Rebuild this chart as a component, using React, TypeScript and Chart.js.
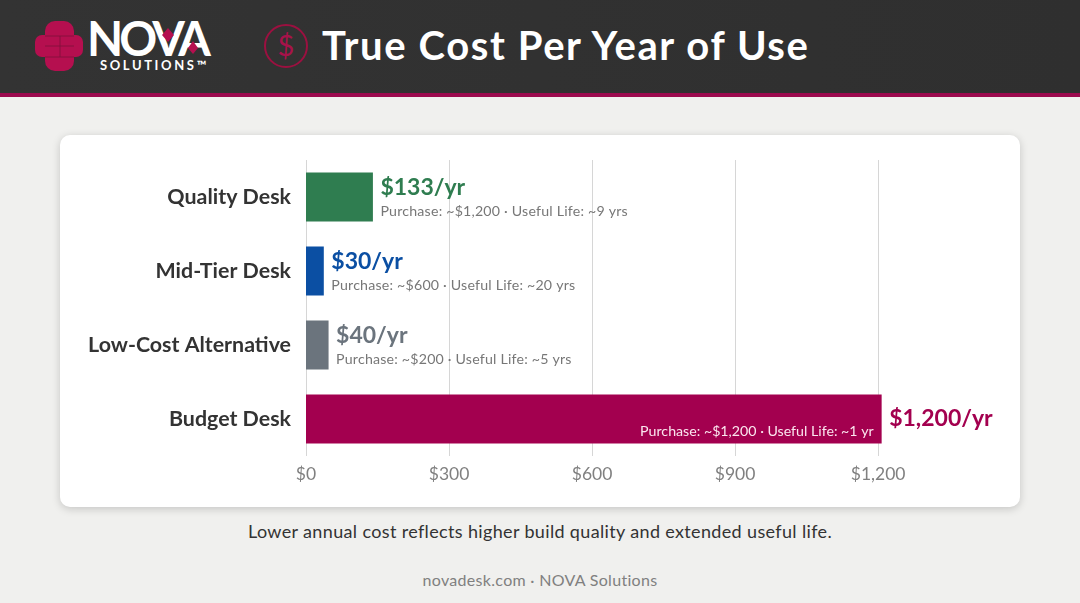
import React, { useEffect, useRef } from "react";
import { Chart, registerables } from "chart.js";

Chart.register(...registerables);

const categories = ["Quality Desk", "Mid-Tier Desk", "Low-Cost Alternative", "Budget Desk"];
const annualCost = [133, 30, 40, 1200];
const barColors = ["#2f7d50", "#0b4fa3", "#6b747d", "#a3004f"];
const valueLabels = ["$133/yr", "$30/yr", "$40/yr", "$1,200/yr"];
const detailLabels = [
  "Purchase: ~$1,200 · Useful Life: ~9 yrs",
  "Purchase: ~$600 · Useful Life: ~20 yrs",
  "Purchase: ~$200 · Useful Life: ~5 yrs",
  "Purchase: ~$1,200 · Useful Life: ~1 yr",
];
const FONT = "Lato, 'Open Sans', sans-serif";

const labelPlugin = {
  id: "barLabels",
  afterDatasetsDraw(chart: any) {
    const { ctx } = chart;
    const meta = chart.getDatasetMeta(0);
    ctx.save();
    meta.data.forEach((el: any, i: number) => {
      const endX = el.x + 3.5;
      const y = el.y;
      ctx.textBaseline = "middle";
      ctx.textAlign = "left";
      ctx.fillStyle = barColors[i];
      ctx.font = `700 23px ${FONT}`;
      ctx.letterSpacing = "0px";
      if (i === 3) {
        ctx.fillText(valueLabels[i], endX + 7.5, y);
        ctx.textAlign = "right";
        ctx.font = `400 14.2px ${FONT}`;
        ctx.letterSpacing = "0px";
        ctx.fillStyle = "#fbe6ef";
        ctx.fillText(detailLabels[i], endX - 8, y + 12);
      } else {
        ctx.fillText(valueLabels[i], endX + 7.5, y - 9);
        ctx.font = `400 14.2px ${FONT}`;
        ctx.letterSpacing = "0.2px";
        ctx.fillStyle = "#777777";
        ctx.fillText(detailLabels[i], endX + 7.5, y + 14);
      }
    });
    ctx.restore();
  },
};

export default function App() {
  const ref = useRef<HTMLCanvasElement>(null);
  useEffect(() => {
    document.body.style.margin = "0";
    const chart = new Chart(ref.current!, {
      type: "bar",
      data: {
        labels: categories,
        datasets: [
          {
            data: annualCost,
            backgroundColor: barColors,
            barThickness: 42,
            inflateAmount: 3.5,
            borderWidth: 0,
          } as any,
        ],
      },
      options: {
        indexAxis: "y",
        animation: false,
        responsive: false,
        layout: { autoPadding: false, padding: { top: 25, right: 46.5, left: 0, bottom: 0 } },
        plugins: { legend: { display: false }, tooltip: { enabled: false } },
        scales: {
          x: {
            min: 0,
            max: 1400,
            grid: { color: "#d6d6d6", drawTicks: false, lineWidth: 1 },
            border: { display: false },
            ticks: {
              stepSize: 300,
              includeBounds: false,
              maxRotation: 0,
              padding: 8,
              color: "#808080",
              font: { family: FONT, size: 17.5, weight: "400" },
              callback: (v: any) => "$" + Number(v).toLocaleString("en-US"),
            },
            afterFit: (s: any) => {
              s.height = 51;
              s.paddingLeft = 0;
              s.paddingRight = 0;
            },
          },
          y: {
            grid: { display: false, drawTicks: false },
            border: { display: false },
            ticks: {
              padding: 15,
              color: "#333333",
              font: { family: FONT, size: 21.4, weight: "700" },
            },
            afterFit: (s: any) => {
              s.width = 246;
              s.paddingTop = 0;
              s.paddingBottom = 0;
            },
          },
        },
      },
      plugins: [labelPlugin],
    } as any);
    return () => chart.destroy();
  }, []);

  return (
    <div style={{ position: "relative", width: 1080, height: 603, overflow: "hidden", background: "#f0f0ee", fontFamily: FONT }}>
      <div style={{ position: "absolute", left: 0, top: 0, width: 1080, height: 93, background: "linear-gradient(90deg,#333333,#2f2f2f)" }} />
      <div style={{ position: "absolute", left: 0, top: 93, width: 1080, height: 4, background: "#9c0a4e" }} />
      <svg width={1080} height={97} style={{ position: "absolute", left: 0, top: 0 }}>
        <g fill="#b50f4f">
          <rect x={45} y={21} width={29} height={50} rx={10} />
          <rect x={35} y={35} width={48} height={22} rx={7} />
        </g>
        <g stroke="#7d0f3a" strokeWidth={0.8}>
          <line x1={45} y1={36} x2={74} y2={36} />
          <line x1={45} y1={46} x2={74} y2={46} />
          <line x1={45} y1={57} x2={74} y2={57} />
          <line x1={60} y1={36} x2={60} y2={57} />
        </g>
        <text x={87} y={56} fontFamily={FONT} fontSize={47} fontWeight={700} fill="#ffffff" textLength={124}>NOVA</text>
        <path d="M168 28l6 7-6 7-6-7z" fill="#b50f4f" />
        <path d="M193 41l5 7-5 6-5-6z" fill="#b50f4f" />
        <text x={100} y={69.5} fontFamily={FONT} fontSize={13} fontWeight={700} fill="#ffffff" letterSpacing={2.6}>SOLUTIONS™</text>
        <circle cx={286} cy={46} r={21} fill="none" stroke="#9c1040" strokeWidth={2} />
        <text x={286} y={56} textAnchor="middle" fontFamily={FONT} fontSize={29} fill="#a8124a">$</text>
      </svg>
      <div style={{ position: "absolute", left: 322, top: 21, fontSize: 40, fontWeight: 700, color: "#fff", lineHeight: "48px", whiteSpace: "nowrap", letterSpacing: 1.6 }}>
        True Cost Per Year of Use
      </div>
      <div style={{ position: "absolute", left: 60, top: 135, width: 960, height: 372, background: "#fff", borderRadius: 10, boxShadow: "0 2px 8px rgba(0,0,0,0.18)" }}>
        <canvas ref={ref} width={960} height={372} style={{ display: "block" }} />
      </div>
      <div style={{ position: "absolute", left: 0, width: 1080, top: 519, textAlign: "center", fontSize: 18, color: "#333", lineHeight: "24px", letterSpacing: 0.35 }}>
        Lower annual cost reflects higher build quality and extended useful life.
      </div>
      <div style={{ position: "absolute", left: 0, width: 1080, top: 569, textAlign: "center", fontSize: 16, color: "#808080", lineHeight: "22px", letterSpacing: 0.3 }}>
        novadesk.com · NOVA Solutions
      </div>
    </div>
  );
}
